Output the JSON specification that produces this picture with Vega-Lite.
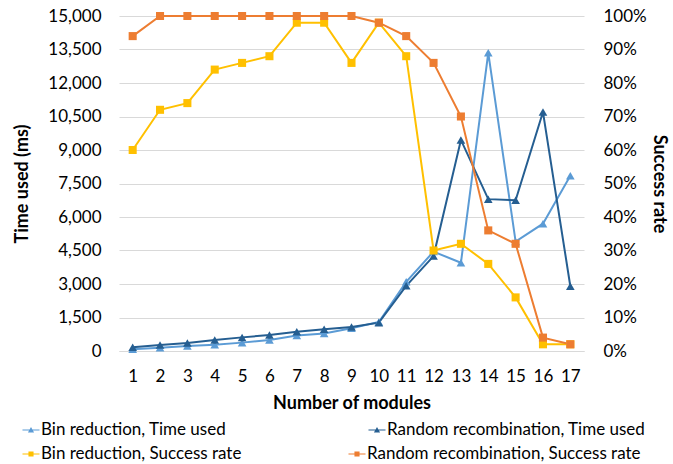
{
  "$schema": "https://vega.github.io/schema/vega-lite/v6.json",
  "width": 465,
  "height": 335,
  "autosize": {"type": "none"},
  "padding": {"left": 119, "top": 16, "right": 89, "bottom": 113},
  "background": "white",
  "config": {
    "font": "Lato",
    "view": {"stroke": null},
    "axis": {"labelFont": "Lato", "titleFont": "Lato", "labelColor": "#000", "titleColor": "#000", "labelFontSize": 17, "titleFontSize": 18, "titleFontWeight": "bold"},
    "legend": {"labelFont": "Lato", "labelFontSize": 17, "labelColor": "#000"}
  },
  "datasets": {
    "d": [
      {"n":1,"series":"Bin reduction, Time used","v":75},
      {"n":2,"series":"Bin reduction, Time used","v":150},
      {"n":3,"series":"Bin reduction, Time used","v":225},
      {"n":4,"series":"Bin reduction, Time used","v":285},
      {"n":5,"series":"Bin reduction, Time used","v":375},
      {"n":6,"series":"Bin reduction, Time used","v":490},
      {"n":7,"series":"Bin reduction, Time used","v":690},
      {"n":8,"series":"Bin reduction, Time used","v":780},
      {"n":9,"series":"Bin reduction, Time used","v":1015},
      {"n":10,"series":"Bin reduction, Time used","v":1300},
      {"n":11,"series":"Bin reduction, Time used","v":3100},
      {"n":12,"series":"Bin reduction, Time used","v":4450},
      {"n":13,"series":"Bin reduction, Time used","v":3950},
      {"n":14,"series":"Bin reduction, Time used","v":13350},
      {"n":15,"series":"Bin reduction, Time used","v":4900},
      {"n":16,"series":"Bin reduction, Time used","v":5700},
      {"n":17,"series":"Bin reduction, Time used","v":7850},
      {"n":1,"series":"Random recombination, Time used","v":165},
      {"n":2,"series":"Random recombination, Time used","v":270},
      {"n":3,"series":"Random recombination, Time used","v":360},
      {"n":4,"series":"Random recombination, Time used","v":490},
      {"n":5,"series":"Random recombination, Time used","v":610},
      {"n":6,"series":"Random recombination, Time used","v":715},
      {"n":7,"series":"Random recombination, Time used","v":865},
      {"n":8,"series":"Random recombination, Time used","v":970},
      {"n":9,"series":"Random recombination, Time used","v":1075},
      {"n":10,"series":"Random recombination, Time used","v":1270},
      {"n":11,"series":"Random recombination, Time used","v":2920},
      {"n":12,"series":"Random recombination, Time used","v":4250},
      {"n":13,"series":"Random recombination, Time used","v":9450},
      {"n":14,"series":"Random recombination, Time used","v":6800},
      {"n":15,"series":"Random recombination, Time used","v":6750},
      {"n":16,"series":"Random recombination, Time used","v":10700},
      {"n":17,"series":"Random recombination, Time used","v":2900}
    ],
    "r": [
      {"n":1,"series":"Bin reduction, Success rate","v":0.60},
      {"n":2,"series":"Bin reduction, Success rate","v":0.72},
      {"n":3,"series":"Bin reduction, Success rate","v":0.74},
      {"n":4,"series":"Bin reduction, Success rate","v":0.84},
      {"n":5,"series":"Bin reduction, Success rate","v":0.86},
      {"n":6,"series":"Bin reduction, Success rate","v":0.88},
      {"n":7,"series":"Bin reduction, Success rate","v":0.98},
      {"n":8,"series":"Bin reduction, Success rate","v":0.98},
      {"n":9,"series":"Bin reduction, Success rate","v":0.86},
      {"n":10,"series":"Bin reduction, Success rate","v":0.98},
      {"n":11,"series":"Bin reduction, Success rate","v":0.88},
      {"n":12,"series":"Bin reduction, Success rate","v":0.30},
      {"n":13,"series":"Bin reduction, Success rate","v":0.32},
      {"n":14,"series":"Bin reduction, Success rate","v":0.26},
      {"n":15,"series":"Bin reduction, Success rate","v":0.16},
      {"n":16,"series":"Bin reduction, Success rate","v":0.02},
      {"n":17,"series":"Bin reduction, Success rate","v":0.02},
      {"n":1,"series":"Random recombination, Success rate","v":0.94},
      {"n":2,"series":"Random recombination, Success rate","v":1.0},
      {"n":3,"series":"Random recombination, Success rate","v":1.0},
      {"n":4,"series":"Random recombination, Success rate","v":1.0},
      {"n":5,"series":"Random recombination, Success rate","v":1.0},
      {"n":6,"series":"Random recombination, Success rate","v":1.0},
      {"n":7,"series":"Random recombination, Success rate","v":1.0},
      {"n":8,"series":"Random recombination, Success rate","v":1.0},
      {"n":9,"series":"Random recombination, Success rate","v":1.0},
      {"n":10,"series":"Random recombination, Success rate","v":0.98},
      {"n":11,"series":"Random recombination, Success rate","v":0.94},
      {"n":12,"series":"Random recombination, Success rate","v":0.86},
      {"n":13,"series":"Random recombination, Success rate","v":0.70},
      {"n":14,"series":"Random recombination, Success rate","v":0.36},
      {"n":15,"series":"Random recombination, Success rate","v":0.32},
      {"n":16,"series":"Random recombination, Success rate","v":0.04},
      {"n":17,"series":"Random recombination, Success rate","v":0.02}
    ]
  },
  "encoding": {
    "x": {"field": "n", "type": "ordinal", "title": "Number of modules",
      "scale": {"paddingOuter": 0.5},
      "axis": {"labelAngle": 0, "ticks": false, "domainColor": "#D9D9D9", "labelPadding": 17, "titlePadding": 10}}
  },
  "layer": [
    {
      "data": {"name": "d"},
      "encoding": {
        "y": {"field": "v", "type": "quantitative", "title": "Time used (ms)",
          "scale": {"domain": [0, 15000], "nice": false},
          "axis": {"values": [0,1500,3000,4500,6000,7500,9000,10500,12000,13500,15000], "format": ",.0f", "ticks": false, "domain": false, "gridColor": "#D9D9D9", "labelPadding": 18, "titlePadding": 16}}
      },
      "layer": [
        {"mark": {"type": "line", "strokeWidth": 2},
         "encoding": {"stroke": {"field": "series", "type": "nominal", "legend": null,
           "scale": {"domain": ["Bin reduction, Time used", "Random recombination, Time used", "Bin reduction, Success rate", "Random recombination, Success rate"],
                     "range": ["#5B9BD5", "#255E91", "#FFC000", "#ED7D31"]}}}},
        {"mark": {"type": "point", "shape": "triangle-up", "filled": true, "opacity": 1, "size": 75},
         "encoding": {"color": {"field": "series", "type": "nominal",
           "scale": {"domain": ["Bin reduction, Time used", "Random recombination, Time used"], "range": ["#5B9BD5", "#255E91"]},
           "legend": {"orient": "none", "legendX": -97, "legendY": 405, "title": null, "direction": "horizontal", "columns": 2, "columnPadding": 141, "symbolSize": 290, "labelOffset": 1, "labelLimit": 400,
             "symbolType": "M-1,-0.06H1V0.06H-1Z M-0.36,0.3L0,-0.34L0.36,0.3Z", "symbolStrokeWidth": 0}}}}
      ]
    },
    {
      "data": {"name": "r"},
      "encoding": {
        "y": {"field": "v", "type": "quantitative", "title": "Success rate",
          "scale": {"domain": [0, 1], "nice": false},
          "axis": {"orient": "right", "values": [0,0.1,0.2,0.3,0.4,0.5,0.6,0.7,0.8,0.9,1], "format": ".0%", "grid": false, "ticks": false, "domain": false, "labelPadding": 19, "titlePadding": 3}}
      },
      "layer": [
        {"mark": {"type": "line", "strokeWidth": 2},
         "encoding": {"stroke": {"field": "series", "type": "nominal", "legend": null,
           "scale": {"domain": ["Bin reduction, Time used", "Random recombination, Time used", "Bin reduction, Success rate", "Random recombination, Success rate"],
                     "range": ["#5B9BD5", "#255E91", "#FFC000", "#ED7D31"]}}}},
        {"mark": {"type": "point", "shape": "square", "filled": true, "opacity": 1, "size": 65},
         "encoding": {"color": {"field": "series", "type": "nominal",
           "scale": {"domain": ["Bin reduction, Success rate", "Random recombination, Success rate"], "range": ["#FFC000", "#ED7D31"]},
           "legend": {"orient": "none", "legendX": -97, "legendY": 429, "title": null, "direction": "horizontal", "columns": 2, "columnPadding": 106, "symbolSize": 290, "labelOffset": 1, "labelLimit": 400,
             "symbolType": "M-1,-0.06H1V0.06H-1Z M-0.3,-0.3H0.3V0.3H-0.3Z", "symbolStrokeWidth": 0}}}}
      ]
    }
  ],
  "resolve": {"scale": {"y": "independent", "color": "independent"}}
}
